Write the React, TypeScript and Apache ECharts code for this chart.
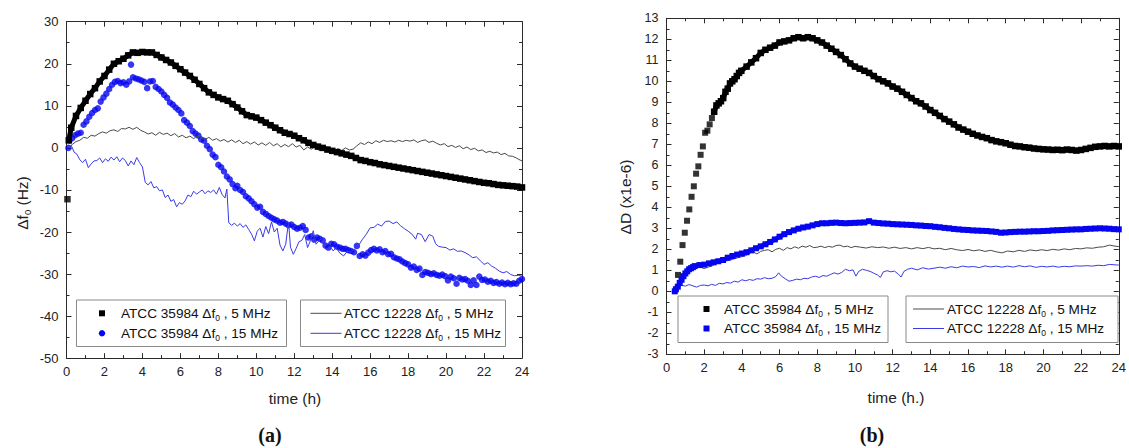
import React, { useEffect, useRef } from "react";
import * as echarts from "echarts";

const FONT = "Liberation Sans, Arial, sans-serif";

const xTicksHours = [0, 24, 2]; // min, max, interval
const yRangeA = [-50, 30, 10];
const yRangeB = [-3, 13, 1];

// ---------- Panel (a): Δf0 (Hz) ----------
const leftA5Outlier: [number, number][] = [[0.05, -12.2]];
const leftA5: [number, number][] = [
  [0.12, 1.8], [0.25, 4.8], [0.5, 7.6], [0.75, 9.5], [1, 11.2], [1.25, 12.8], [1.5, 14.2], [1.75, 15.8],
  [2, 17.1], [2.25, 18.6], [2.5, 20.0], [2.75, 20.6], [3, 21.2], [3.25, 22.0], [3.5, 22.7], [3.75, 22.6], [4, 22.8],
  [4.25, 22.7], [4.5, 22.7], [4.75, 22.1], [5, 21.5], [5.25, 20.9], [5.5, 20.3], [5.75, 19.5], [6, 18.7], [6.25, 17.9],
  [6.5, 17.1], [6.75, 16.2], [7, 15.2], [7.25, 14.2], [7.5, 13.2], [7.75, 12.6], [8, 12.0], [8.25, 11.6], [8.5, 11.2],
  [8.75, 10.4], [9, 9.6], [9.25, 8.7], [9.5, 7.8], [9.75, 7.5], [10, 7.2], [10.25, 6.6], [10.5, 6.0], [10.75, 5.4],
  [11, 4.8], [11.25, 4.2], [11.5, 3.6], [11.75, 3.3], [12, 2.9], [12.25, 2.3], [12.5, 1.8], [12.75, 1.2], [13, 0.7],
  [13.25, 0.3], [13.5, 0.0], [13.75, -0.4], [14, -0.7], [14.25, -1.0], [14.5, -1.3], [14.75, -1.6], [15, -1.9],
  [15.25, -2.4], [15.5, -2.9], [15.75, -3.1], [16, -3.4], [16.25, -3.6], [16.5, -3.9], [16.75, -4.1], [17, -4.3],
  [17.25, -4.5], [17.5, -4.7], [17.75, -4.9], [18, -5.1], [18.25, -5.3], [18.5, -5.5], [18.75, -5.7], [19, -5.9],
  [19.25, -6.1], [19.5, -6.3], [19.75, -6.5], [20, -6.7], [20.25, -6.9], [20.5, -7.1], [20.75, -7.3], [21, -7.5],
  [21.25, -7.7], [21.5, -7.9], [21.75, -8.1], [22, -8.3], [22.25, -8.4], [22.5, -8.6], [22.75, -8.8], [23, -8.9],
  [23.25, -9.0], [23.5, -9.1], [23.75, -9.2], [24, -9.4],
];

const leftA15: [number, number][] = [
  [0.1, 0.0], [0.15, 1.7], [0.3, 2.3], [0.45, 3.0], [0.6, 3.4], [0.75, 3.6], [0.9, 5.5], [1.05, 6.3], [1.2, 7.4],
  [1.35, 8.3], [1.5, 9.0], [1.65, 9.4], [1.8, 11.0], [1.95, 12.0], [2.1, 12.9], [2.25, 14.0], [2.4, 15.0], [2.55, 15.7],
  [2.7, 15.9], [2.85, 15.4], [3.0, 15.6], [3.15, 15.0], [3.3, 15.8], [3.4, 19.8], [3.5, 16.8], [3.65, 16.5], [3.8, 16.3],
  [3.95, 16.0], [4.1, 15.7], [4.25, 14.2], [4.4, 15.8], [4.55, 15.9], [4.7, 14.5], [4.85, 14.0], [5.0, 13.4], [5.15, 12.6],
  [5.3, 11.9], [5.45, 10.8], [5.6, 10.3], [5.75, 9.6], [5.9, 9.0], [6.05, 8.2], [6.2, 6.6], [6.35, 6.0], [6.5, 5.2],
  [6.65, 4.0], [6.8, 3.4], [6.95, 2.9], [7.1, 2.0], [7.25, 1.7], [7.4, 0.5], [7.55, -0.3], [7.7, -1.6], [7.85, -2.2],
  [8.0, -4.0], [8.15, -4.6], [8.3, -5.6], [8.45, -6.8], [8.6, -7.5], [8.75, -8.6], [8.9, -9.6], [9.0, -9.0], [9.15, -10.0],
  [9.3, -10.5], [9.45, -11.5], [9.6, -12.0], [9.75, -12.7], [9.9, -13.4], [10.05, -14.2], [10.2, -14.0], [10.35, -15.2],
  [10.5, -15.7], [10.65, -16.2], [10.8, -16.6], [10.95, -17.0], [11.1, -17.3], [11.25, -17.8], [11.4, -17.6], [11.55, -18.0],
  [11.7, -18.4], [11.85, -18.2], [12.0, -18.8], [12.15, -19.2], [12.3, -19.0], [12.45, -18.6], [12.6, -19.5], [12.75, -21.3],
  [12.9, -21.0], [13.05, -21.8], [13.2, -21.3], [13.35, -21.6], [13.5, -22.0], [13.65, -23.2], [13.8, -23.7], [13.95, -22.8],
  [14.1, -22.9], [14.25, -23.5], [14.4, -23.7], [14.55, -24.0], [14.7, -24.0], [14.85, -24.3], [15.0, -24.5], [15.15, -24.8],
  [15.3, -23.3], [15.45, -25.7], [15.6, -25.3], [15.75, -25.6], [15.9, -24.9], [16.05, -24.3], [16.2, -24.0], [16.35, -24.4],
  [16.5, -24.1], [16.65, -24.8], [16.8, -24.5], [16.95, -25.3], [17.1, -25.2], [17.25, -26.0], [17.4, -26.3], [17.55, -26.5],
  [17.7, -27.0], [17.85, -27.4], [18.0, -27.7], [18.15, -28.5], [18.3, -28.2], [18.45, -29.0], [18.6, -28.7], [18.75, -30.2],
  [18.9, -29.5], [19.05, -29.7], [19.2, -30.0], [19.35, -29.8], [19.5, -30.2], [19.65, -30.4], [19.8, -30.1], [19.95, -30.5],
  [20.1, -31.5], [20.25, -30.6], [20.4, -31.0], [20.55, -32.3], [20.7, -30.9], [20.85, -31.3], [21.0, -31.2], [21.15, -31.6],
  [21.3, -32.6], [21.45, -31.5], [21.6, -32.6], [21.75, -30.6], [21.9, -31.4], [22.05, -31.3], [22.2, -31.8], [22.35, -31.6],
  [22.5, -32.1], [22.65, -31.9], [22.8, -32.3], [22.95, -32.0], [23.1, -32.4], [23.25, -32.1], [23.4, -32.4], [23.55, -32.2],
  [23.7, -32.3], [23.85, -31.6], [24.0, -31.2],
];

const leftB5: [number, number][] = [
  [0.1, 0], [0.3, 0.8], [0.5, 1.5], [0.7, 1.8], [0.9, 2.5], [1.1, 2.3], [1.3, 3.0], [1.5, 2.8], [1.7, 3.4], [1.9, 3.8],
  [2.1, 3.5], [2.3, 4.1], [2.5, 4.3], [2.7, 3.9], [2.9, 4.6], [3.1, 4.5], [3.3, 4.9], [3.5, 4.4], [3.7, 4.9], [3.9, 4.2],
  [4.1, 3.8], [4.3, 3.3], [4.5, 3.6], [4.7, 3.0], [4.9, 3.7], [5.1, 3.2], [5.3, 3.5], [5.5, 2.9], [5.7, 3.4], [5.9, 2.6],
  [6.1, 3.0], [6.3, 2.4], [6.5, 2.8], [6.7, 2.2], [6.9, 2.9], [7.1, 2.4], [7.3, 2.0], [7.5, 2.5], [7.7, 1.8], [7.9, 2.2],
  [8.1, 1.6], [8.3, 2.0], [8.5, 1.4], [8.7, 1.9], [8.9, 1.3], [9.1, 1.8], [9.3, 1.0], [9.5, 1.5], [9.7, 0.9], [9.9, 1.4],
  [10.1, 0.7], [10.3, 1.2], [10.5, 0.6], [10.7, 1.3], [10.9, 0.5], [11.1, 1.0], [11.3, 0.2], [11.5, 0.8], [11.7, 0.3],
  [11.9, 1.0], [12.1, 0.2], [12.3, 0.6], [12.5, -0.5], [12.7, 0.2], [12.9, -0.3], [13.1, 0.3], [13.3, -0.6], [13.5, -0.2],
  [13.7, -0.8], [13.9, 0.1], [14.1, -0.7], [14.3, -0.2], [14.5, -0.6], [14.7, 0.0], [14.9, -0.5], [15.1, -0.3], [15.3, 0.5],
  [15.5, 1.2], [15.7, 0.8], [15.9, 1.4], [16.1, 1.0], [16.3, 1.7], [16.5, 1.3], [16.7, 1.8], [16.9, 1.5], [17.1, 1.7],
  [17.3, 1.4], [17.5, 1.8], [17.7, 1.5], [17.9, 1.8], [18.1, 1.6], [18.3, 1.9], [18.5, 1.3], [18.7, 1.7], [18.9, 1.9],
  [19.1, 1.3], [19.3, 1.6], [19.5, 1.1], [19.7, 0.7], [19.9, 1.0], [20.1, 0.3], [20.3, 0.6], [20.5, 0.1], [20.7, 0.5],
  [20.9, -0.2], [21.1, 0.2], [21.3, -0.4], [21.5, -0.1], [21.7, -0.7], [21.9, -0.5], [22.1, -1.1], [22.3, -0.8],
  [22.5, -1.2], [22.7, -1.0], [22.9, -1.6], [23.1, -1.3], [23.3, -1.9], [23.5, -2.0], [23.7, -2.4], [23.9, -2.9], [24.0, -3.1],
];

const leftB15: [number, number][] = [
  [0.1, 0], [0.25, 0.6], [0.4, -1.0], [0.55, -1.5], [0.7, -2.8], [0.85, -3.5], [1.0, -2.7], [1.15, -4.7], [1.3, -3.8],
  [1.45, -3.1], [1.6, -3.0], [1.75, -2.4], [1.9, -3.5], [2.05, -2.6], [2.2, -3.2], [2.35, -2.2], [2.5, -2.9], [2.65, -2.1],
  [2.8, -3.3], [2.95, -2.4], [3.1, -3.0], [3.25, -4.3], [3.4, -3.1], [3.55, -4.0], [3.7, -2.3], [3.85, -3.5], [4.0, -4.5],
  [4.15, -8.2], [4.3, -8.8], [4.45, -8.0], [4.6, -9.5], [4.75, -9.2], [4.9, -10.2], [5.05, -10.0], [5.2, -11.8],
  [5.35, -11.2], [5.5, -12.7], [5.65, -12.3], [5.8, -14.0], [5.95, -13.0], [6.1, -13.4], [6.25, -12.6], [6.4, -11.2],
  [6.55, -11.6], [6.7, -10.3], [6.85, -11.0], [7.0, -10.5], [7.15, -10.0], [7.3, -10.9], [7.45, -10.2], [7.6, -10.6],
  [7.75, -10.0], [7.9, -11.0], [8.05, -9.4], [8.2, -11.1], [8.35, -11.9], [8.45, -9.8], [8.55, -17.8], [8.7, -18.4],
  [8.85, -17.9], [9.0, -18.6], [9.15, -18.0], [9.3, -18.9], [9.45, -18.3], [9.6, -19.4], [9.75, -20.5], [9.9, -22.1],
  [10.05, -19.8], [10.2, -19.1], [10.35, -21.2], [10.5, -18.7], [10.65, -20.4], [10.8, -17.6], [10.95, -20.0], [11.1, -19.1],
  [11.25, -23.1], [11.4, -24.5], [11.55, -22.9], [11.7, -17.6], [11.8, -23.6], [11.95, -25.3], [12.1, -23.9], [12.25, -22.3],
  [12.4, -22.0], [12.55, -20.6], [12.7, -23.7], [12.85, -22.1], [13.0, -19.7], [13.15, -22.9], [13.3, -22.1], [13.45, -21.5],
  [13.6, -23.9], [13.75, -24.2], [13.9, -23.4], [14.05, -24.5], [14.2, -23.8], [14.4, -25.0], [14.6, -25.7], [14.8, -24.5],
  [15.0, -24.8], [15.2, -23.9], [15.4, -23.1], [15.6, -21.7], [15.8, -20.5], [16.0, -19.0], [16.2, -18.9], [16.4, -18.1],
  [16.6, -18.6], [16.8, -17.5], [17.0, -17.4], [17.2, -18.0], [17.4, -17.6], [17.6, -18.5], [17.8, -19.2], [18.0, -19.8],
  [18.2, -20.5], [18.4, -21.7], [18.5, -20.3], [18.7, -20.6], [18.9, -22.3], [19.1, -20.6], [19.3, -21.0], [19.45, -22.8],
  [19.6, -23.4], [19.8, -23.6], [20.0, -23.7], [20.2, -24.3], [20.4, -24.0], [20.6, -24.6], [20.8, -24.5], [21.0, -24.9],
  [21.2, -25.4], [21.4, -26.1], [21.6, -25.9], [21.8, -26.8], [22.0, -27.7], [22.2, -27.3], [22.4, -28.1], [22.6, -28.6],
  [22.8, -29.3], [23.0, -29.7], [23.2, -29.4], [23.4, -30.1], [23.6, -30.4], [23.8, -30.3], [24.0, -30.5],
];

// ---------- Panel (b): ΔD (x1e-6) ----------
// early, well-separated squares of the 5 MHz 35984 curve
const rightA5Rise: [number, number][] = [
  [0.61, 0.78], [0.73, 1.41], [0.85, 2.2], [0.97, 2.79], [1.09, 3.36], [1.21, 3.9], [1.33, 4.5], [1.45, 5.0], [1.57, 5.6],
  [1.69, 5.95], [1.81, 6.5], [1.93, 6.9], [2.05, 7.55], [2.17, 7.65], [2.29, 7.95], [2.41, 8.25],
];
const rightA5: [number, number][] = [
  [2.53, 8.55], [2.65, 8.85], [2.77, 8.95], [2.89, 9.05], [3.01, 9.2], [3.13, 9.5], [3.25, 9.65], [3.37, 9.9], [3.49, 10.0],
  [3.61, 10.1], [3.73, 10.25], [3.85, 10.4], [3.97, 10.5], [4.25, 10.7], [4.5, 10.9], [4.75, 11.1], [5.0, 11.35], [5.25, 11.5],
  [5.5, 11.6], [5.75, 11.7], [6.0, 11.85], [6.25, 11.9], [6.5, 11.95], [6.75, 12.05], [7.0, 12.1], [7.25, 12.05], [7.5, 12.1],
  [7.75, 12.05], [8.0, 11.95], [8.25, 11.85], [8.5, 11.7], [8.75, 11.55], [9.0, 11.4], [9.25, 11.25], [9.5, 11.05],
  [9.75, 10.85], [10.0, 10.7], [10.25, 10.6], [10.5, 10.5], [10.75, 10.4], [11.0, 10.25], [11.25, 10.1], [11.5, 10.0],
  [11.75, 9.9], [12.0, 9.75], [12.25, 9.65], [12.5, 9.5], [12.75, 9.35], [13.0, 9.2], [13.25, 9.05], [13.5, 8.95],
  [13.75, 8.8], [14.0, 8.63], [14.25, 8.5], [14.5, 8.35], [14.75, 8.2], [15.0, 8.08], [15.25, 7.95], [15.5, 7.8],
  [15.75, 7.7], [16.0, 7.6], [16.25, 7.5], [16.5, 7.42], [16.75, 7.35], [17.0, 7.29], [17.25, 7.2], [17.5, 7.14],
  [17.75, 7.1], [18.0, 7.05], [18.25, 6.98], [18.5, 6.92], [18.75, 6.9], [19.0, 6.86], [19.25, 6.84], [19.5, 6.8],
  [19.75, 6.78], [20.0, 6.76], [20.25, 6.75], [20.5, 6.73], [20.75, 6.74], [21.0, 6.72], [21.25, 6.75], [21.5, 6.73],
  [21.75, 6.7], [22.0, 6.73], [22.25, 6.78], [22.5, 6.83], [22.75, 6.88], [23.0, 6.9], [23.25, 6.92], [23.5, 6.9],
  [23.75, 6.92], [24.0, 6.9],
];

const rightA15: [number, number][] = [
  [0.44, 0.0], [0.5, 0.1], [0.6, 0.22], [0.7, 0.4], [0.8, 0.55], [0.9, 0.72], [1.0, 0.85], [1.1, 0.95], [1.2, 1.05],
  [1.3, 1.1], [1.4, 1.15], [1.5, 1.2], [1.75, 1.25], [2.0, 1.27], [2.25, 1.33], [2.5, 1.38], [2.75, 1.43], [3.0, 1.49],
  [3.25, 1.6], [3.5, 1.68], [3.75, 1.75], [4.0, 1.8], [4.25, 1.86], [4.5, 1.95], [4.75, 2.05], [5.0, 2.14], [5.25, 2.24],
  [5.5, 2.35], [5.75, 2.47], [6.0, 2.6], [6.25, 2.72], [6.5, 2.82], [6.75, 2.9], [7.0, 2.98], [7.25, 3.04], [7.5, 3.08],
  [7.75, 3.14], [8.0, 3.2], [8.25, 3.24], [8.5, 3.24], [8.75, 3.26], [9.0, 3.27], [9.25, 3.25], [9.5, 3.24], [9.75, 3.25],
  [10.0, 3.26], [10.25, 3.27], [10.5, 3.28], [10.75, 3.34], [11.0, 3.27], [11.25, 3.25], [11.5, 3.23], [11.75, 3.22],
  [12.0, 3.2], [12.25, 3.19], [12.5, 3.18], [12.75, 3.17], [13.0, 3.16], [13.25, 3.14], [13.5, 3.13], [13.75, 3.11],
  [14.0, 3.1], [14.25, 3.07], [14.5, 3.05], [14.75, 3.02], [15.0, 3.0], [15.25, 2.97], [15.5, 2.95], [15.75, 2.93],
  [16.0, 2.92], [16.25, 2.9], [16.5, 2.89], [16.75, 2.88], [17.0, 2.87], [17.25, 2.85], [17.5, 2.83], [17.75, 2.79],
  [18.0, 2.8], [18.25, 2.82], [18.5, 2.83], [18.75, 2.84], [19.0, 2.84], [19.25, 2.85], [19.5, 2.86], [19.75, 2.86],
  [20.0, 2.87], [20.25, 2.88], [20.5, 2.9], [20.75, 2.91], [21.0, 2.92], [21.25, 2.93], [21.5, 2.94], [21.75, 2.95],
  [22.0, 2.95], [22.25, 2.97], [22.5, 2.98], [22.75, 2.99], [23.0, 3.0], [23.25, 2.99], [23.5, 2.98], [23.75, 2.96], [24.0, 2.95],
];

const rightB5: [number, number][] = [
  [0.44, 0], [0.6, 0.35], [0.75, 0.55], [0.9, 0.8], [1.05, 0.95], [1.2, 1.05], [1.4, 1.12], [1.6, 1.18], [1.8, 1.15],
  [2.0, 1.08], [2.2, 1.15], [2.4, 1.2], [2.6, 1.3], [2.8, 1.35], [3.0, 1.4], [3.2, 1.45], [3.4, 1.5], [3.6, 1.55],
  [3.8, 1.6], [4.0, 1.65], [4.2, 1.7], [4.4, 1.82], [4.6, 1.88], [4.8, 1.78], [5.0, 1.9], [5.2, 1.95], [5.4, 1.98],
  [5.6, 1.88], [5.8, 2.0], [6.0, 2.05], [6.2, 1.95], [6.4, 2.08], [6.6, 2.02], [6.8, 2.12], [7.0, 2.05], [7.2, 2.15],
  [7.4, 2.1], [7.6, 2.18], [7.8, 2.08], [8.0, 2.1], [8.2, 2.15], [8.4, 2.08], [8.6, 2.14], [8.8, 2.1], [9.0, 2.18],
  [9.2, 2.2], [9.4, 2.12], [9.6, 2.15], [9.8, 2.08], [10.0, 2.14], [10.3, 2.1], [10.6, 2.06], [10.9, 2.12], [11.2, 2.08],
  [11.5, 2.11], [11.8, 2.05], [12.1, 2.1], [12.4, 2.04], [12.7, 2.08], [13.0, 2.02], [13.3, 2.08], [13.6, 2.03],
  [13.9, 2.09], [14.2, 2.02], [14.5, 2.05], [14.8, 1.98], [15.1, 2.04], [15.4, 1.98], [15.7, 1.94], [16.0, 1.99],
  [16.3, 1.93], [16.6, 1.97], [16.9, 1.9], [17.2, 1.95], [17.5, 1.88], [17.8, 1.83], [18.1, 1.92], [18.4, 1.88],
  [18.7, 1.95], [19.0, 1.9], [19.3, 1.97], [19.6, 1.93], [19.9, 1.98], [20.2, 1.94], [20.5, 2.0], [20.8, 1.96],
  [21.1, 2.02], [21.4, 1.98], [21.7, 2.04], [22.0, 2.02], [22.3, 2.07], [22.6, 2.05], [22.9, 2.1], [23.2, 2.12],
  [23.5, 2.2], [23.8, 2.15], [24.0, 2.13],
];

const rightB15: [number, number][] = [
  [0.44, 0], [0.6, 0.22], [0.8, 0.28], [1.0, 0.25], [1.2, 0.32], [1.4, 0.26], [1.6, 0.2], [1.8, 0.28], [2.0, 0.3],
  [2.2, 0.26], [2.4, 0.33], [2.6, 0.28], [2.8, 0.38], [3.0, 0.35], [3.2, 0.42], [3.4, 0.39], [3.6, 0.48], [3.8, 0.44],
  [4.0, 0.55], [4.2, 0.5], [4.4, 0.56], [4.6, 0.52], [4.8, 0.6], [5.0, 0.58], [5.2, 0.65], [5.4, 0.6], [5.6, 0.62],
  [5.8, 0.7], [5.95, 0.88], [6.1, 0.72], [6.3, 0.6], [6.5, 0.48], [6.7, 0.52], [6.9, 0.58], [7.1, 0.55], [7.3, 0.62],
  [7.5, 0.6], [7.7, 0.68], [7.9, 0.72], [8.1, 0.66], [8.3, 0.75], [8.5, 0.72], [8.7, 0.8], [8.9, 0.88], [9.1, 0.82],
  [9.3, 0.9], [9.5, 1.05], [9.7, 0.98], [9.9, 1.02], [10.05, 0.72], [10.2, 0.95], [10.4, 1.05], [10.6, 1.0], [10.8, 0.95],
  [11.0, 0.86], [11.2, 0.78], [11.35, 0.66], [11.5, 0.92], [11.7, 0.98], [11.9, 0.93], [12.1, 0.96], [12.3, 0.82],
  [12.45, 0.68], [12.6, 0.95], [12.8, 1.05], [13.0, 1.1], [13.3, 1.02], [13.6, 1.12], [13.9, 1.06], [14.2, 1.1],
  [14.5, 1.15], [14.8, 1.1], [15.1, 1.17], [15.4, 1.12], [15.7, 1.2], [16.0, 1.16], [16.3, 1.18], [16.6, 1.13],
  [16.9, 1.21], [17.2, 1.16], [17.5, 1.2], [17.8, 1.15], [18.1, 1.2], [18.4, 1.15], [18.7, 1.22], [19.0, 1.17],
  [19.3, 1.21], [19.6, 1.14], [19.9, 1.19], [20.2, 1.16], [20.5, 1.2], [20.8, 1.15], [21.1, 1.19], [21.4, 1.17],
  [21.7, 1.21], [22.0, 1.2], [22.3, 1.22], [22.6, 1.2], [22.9, 1.24], [23.2, 1.22], [23.5, 1.28], [23.8, 1.26], [24.0, 1.25],
];

const legendNames = [
  ["ATCC 35984 Δf", "0", " , 5 MHz"],
  ["ATCC 35984 Δf", "0", " , 15 MHz"],
  ["ATCC 12228 Δf", "0", " , 5 MHz"],
  ["ATCC 12228 Δf", "0", " , 15 MHz"],
];

const C_BLACK = "#000000";
const C_BLUE = "#0505f0";
const C_GRAY = "#4a4a4a";
const C_BLUE_LINE = "#3a3ae6";

function rt(parts: string[]) {
  return `{n|${parts[0]}}{s|${parts[1]}}{n|${parts[2]}}`;
}
const legendRich = {
  n: { fontSize: 13.6, fontFamily: FONT, fill: "#111", lineHeight: 18 },
  s: { fontSize: 8.5, fontFamily: FONT, fill: "#111", lineHeight: 8, verticalAlign: "bottom" },
};

export default function App() {
  const ref = useRef<HTMLDivElement>(null);
  useEffect(() => {
    document.body.style.margin = "0";
    if (!ref.current) return;
    const chart = echarts.init(ref.current, undefined, { renderer: "svg" });

    const grids = [
      { left: 66.5, top: 21.7, width: 455.5, height: 336.5 },
      { left: 666.5, top: 18.3, width: 456, height: 336 },
    ];

    const lineStyle = { color: "#2a2a2a", width: 1 };
    const mkX = (gi: number, pos: "bottom" | "top") => ({
      type: "value",
      gridIndex: gi,
      position: pos,
      min: xTicksHours[0],
      max: xTicksHours[1],
      interval: xTicksHours[2],
      axisLine: { show: true, onZero: false, lineStyle },
      axisTick: { show: true, inside: true, length: 5, lineStyle },
      minorTick: { show: true, splitNumber: 2, length: 3, lineStyle },
      splitLine: { show: false },
      axisLabel: { show: pos === "bottom", fontFamily: FONT, fontSize: 13, color: "#222", margin: 7 },
    });
    const mkY = (gi: number, pos: "left" | "right", r: number[], fs: number) => ({
      type: "value",
      gridIndex: gi,
      position: pos,
      min: r[0],
      max: r[1],
      interval: r[2],
      axisLine: { show: true, onZero: false, lineStyle },
      axisTick: { show: true, inside: true, length: 5, lineStyle },
      minorTick: { show: true, splitNumber: 2, length: 3, lineStyle },
      splitLine: { show: false },
      axisLabel: { show: pos === "left", fontFamily: FONT, fontSize: fs, color: "#222", margin: 8 },
    });

    const boxStyle = { fill: "#fff", stroke: "#8a8a8a", lineWidth: 1 };
    const textEl = (x: number, y: number, parts: string[]) => ({
      type: "text",
      x,
      y,
      z: 10,
      style: { text: rt(parts), rich: legendRich, align: "left", verticalAlign: "middle" },
    });
    const titleFont = { fontSize: 15.5, fontFamily: FONT, fill: "#222", align: "center", verticalAlign: "middle" };
    const serifBold = { fontSize: 20, fontWeight: "bold", fontFamily: "Liberation Serif, DejaVu Serif, serif", fill: "#111", align: "center", verticalAlign: "middle" };

    const graphic: any[] = [
      // Panel (a) legends
      { type: "rect", shape: { x: 76.5, y: 300, width: 210, height: 46.5 }, style: boxStyle, z: 5 },
      { type: "rect", shape: { x: 99, y: 310.3, width: 6, height: 6 }, style: { fill: C_BLACK }, z: 10 },
      { type: "circle", shape: { cx: 102, cy: 333.3, r: 3.2 }, style: { fill: C_BLUE }, z: 10 },
      textEl(121, 313.3, legendNames[0]),
      textEl(121, 333.3, legendNames[1]),
      { type: "rect", shape: { x: 300.5, y: 300, width: 205, height: 46.5 }, style: boxStyle, z: 5 },
      { type: "line", shape: { x1: 310.5, y1: 313.3, x2: 341.5, y2: 313.3 }, style: { stroke: C_GRAY, lineWidth: 1 }, z: 10 },
      { type: "line", shape: { x1: 310.5, y1: 333.3, x2: 341.5, y2: 333.3 }, style: { stroke: C_BLUE_LINE, lineWidth: 1 }, z: 10 },
      textEl(344, 313.3, legendNames[2]),
      textEl(344, 333.3, legendNames[3]),
      // Panel (b) legends
      { type: "rect", shape: { x: 678, y: 296, width: 210, height: 46.5 }, style: boxStyle, z: 5 },
      { type: "rect", shape: { x: 703.5, y: 306, width: 6, height: 6 }, style: { fill: C_BLACK }, z: 10 },
      { type: "rect", shape: { x: 703.5, y: 325.5, width: 6, height: 6 }, style: { fill: C_BLUE }, z: 10 },
      textEl(724, 309, legendNames[0]),
      textEl(724, 328.5, legendNames[1]),
      { type: "rect", shape: { x: 906, y: 296, width: 212, height: 46.5 }, style: boxStyle, z: 5 },
      { type: "line", shape: { x1: 913, y1: 309, x2: 944, y2: 309 }, style: { stroke: C_GRAY, lineWidth: 1 }, z: 10 },
      { type: "line", shape: { x1: 913, y1: 328.5, x2: 944, y2: 328.5 }, style: { stroke: C_BLUE_LINE, lineWidth: 1 }, z: 10 },
      textEl(947, 309, legendNames[2]),
      textEl(947, 328.5, legendNames[3]),
      // Axis titles
      {
        type: "text",
        x: 22,
        y: 203,
        rotation: Math.PI / 2,
        style: {
          text: "{n|Δf}{s|0}{n| (Hz)}",
          rich: {
            n: { fontSize: 15.5, fontFamily: FONT, fill: "#222", lineHeight: 20 },
            s: { fontSize: 9.5, fontFamily: FONT, fill: "#222", lineHeight: 9, verticalAlign: "bottom" },
          },
          align: "center",
          verticalAlign: "middle",
        },
      },
      { type: "text", x: 625, y: 197, rotation: Math.PI / 2, style: { text: "ΔD (x1e-6)", ...titleFont } },
      { type: "text", x: 295, y: 398, style: { text: "time (h)", ...titleFont } },
      { type: "text", x: 896, y: 397, style: { text: "time (h.)", ...titleFont } },
      { type: "text", x: 270, y: 435, style: { text: "(a)", ...serifBold } },
      { type: "text", x: 872, y: 435, style: { text: "(b)", ...serifBold } },
    ];

    // dense square-marker curves: squares joined by a band of the same width
    const band = (xi: number, data: [number, number][], color: string, size: number, w: number) => ({
      type: "line",
      xAxisIndex: xi,
      yAxisIndex: xi,
      data,
      symbol: "rect",
      symbolSize: size,
      showSymbol: true,
      showAllSymbol: true,
      itemStyle: { color },
      lineStyle: { color, width: w },
    });

    const option: any = {
      animation: false,
      backgroundColor: "#ffffff",
      grid: grids,
      xAxis: [mkX(0, "bottom"), mkX(0, "top"), mkX(1, "bottom"), mkX(1, "top")],
      yAxis: [mkY(0, "left", yRangeA, 13), mkY(0, "right", yRangeA, 13), mkY(1, "left", yRangeB, 12.5), mkY(1, "right", yRangeB, 12.5)],
      series: [
        band(0, leftA5, C_BLACK, 6.5, 5),
        { type: "scatter", xAxisIndex: 0, yAxisIndex: 0, data: leftA5Outlier, symbol: "rect", symbolSize: 6.5, itemStyle: { color: C_BLACK } },
        { type: "scatter", xAxisIndex: 0, yAxisIndex: 0, data: leftA15, symbol: "circle", symbolSize: 6.5, itemStyle: { color: C_BLUE } },
        { type: "line", xAxisIndex: 0, yAxisIndex: 0, data: leftB5, symbol: "none", lineStyle: { color: C_GRAY, width: 1 } },
        { type: "line", xAxisIndex: 0, yAxisIndex: 0, data: leftB15, symbol: "none", lineStyle: { color: C_BLUE_LINE, width: 1 } },
        { type: "scatter", xAxisIndex: 2, yAxisIndex: 2, data: rightA5Rise, symbol: "rect", symbolSize: 6, itemStyle: { color: C_BLACK } },
        band(2, rightA5, C_BLACK, 6.5, 5),
        band(2, rightA15, C_BLUE, 6, 4.5),
        { type: "line", xAxisIndex: 2, yAxisIndex: 2, data: rightB5, symbol: "none", lineStyle: { color: C_GRAY, width: 1 } },
        { type: "line", xAxisIndex: 2, yAxisIndex: 2, data: rightB15, symbol: "none", lineStyle: { color: C_BLUE_LINE, width: 1 } },
      ],
      graphic,
    };
    chart.setOption(option);
    return () => chart.dispose();
  }, []);
  return <div ref={ref} style={{ width: 1129, height: 448 }} />;
}
